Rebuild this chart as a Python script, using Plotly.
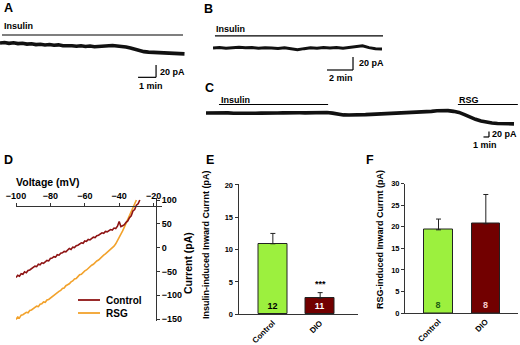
import plotly.graph_objects as go

W, H = 520, 345
FONT = "Liberation Sans, Arial, sans-serif"


def px(x):
    return x / W


def py(y):
    return 1 - y / H


# ---------------- data ----------------
# Panel A: insulin trace (time in min, current in pA, relative to start)
a_time = [0, 0.25, 0.5, 0.75, 1, 1.25, 1.5, 1.75, 2, 2.25, 2.5, 2.75, 3, 3.25, 3.5,
          3.75, 4, 4.25, 4.5, 4.75, 5, 5.25, 5.5, 5.75, 6, 6.25, 6.5, 6.75, 7, 7.25,
          7.5, 7.75, 8, 8.25, 8.5, 8.75, 9, 9.25, 9.5, 9.75, 10, 10.25]
a_current = [0, 0.8, -0.5, 0.3, -1.0, -0.4, -1.8, -1.2, -2.6, -2.0, -3.2, -2.5, -3.6,
             -3.0, -4.4, -3.8, -4.5, -5.2, -4.6, -5.6, -5.0, -6.0, -5.4, -5.0, -4.4,
             -4.0, -4.8, -5.2, -6.5, -8.0, -10.0, -12.4, -14.0, -14.8, -15.2, -15.6,
             -15.0, -16.2, -16.8, -16.0, -17.2, -17.6]

# Panel B: insulin trace (DIO)
b_time = [0, 0.5, 1, 1.5, 2, 2.5, 3, 3.5, 4, 4.5, 5, 5.5, 6, 6.5, 7, 7.5, 8, 8.5, 9,
          9.5, 10, 10.5, 11, 11.5, 12, 12.5, 13]
b_current = [0, 0.8, -0.5, 0.6, 1.2, 0.3, 0.9, -0.4, 0.5, 0, -0.8, 0.2, -1.5, -2.8,
             -1.0, 0.3, -0.5, 0.6, 0.1, 0.9, -0.3, 0.7, 1.5, 3.5, 0.5, -1.2, -1.6]

# Panel C: insulin then RSG trace
c_time = [0, 1, 2, 3, 4, 5, 6, 7, 8, 9, 10, 11, 12, 13, 14, 15, 16, 17, 18, 19, 20,
          21, 22, 23, 24, 25, 26, 27, 28, 29, 30, 31, 32, 33, 34, 35, 36, 37, 38, 39,
          40, 41, 42, 43, 44, 45, 46, 47, 48, 49, 50, 51, 52, 53, 54, 55, 56]
c_current = [0, 0.6, -1, 0.2, 0.5, -0.8, -1.5, -0.6, -1.8, -0.9, -0.5, -1.2, -1, 0.2,
             0.5, -0.4, 0, 0.8, 0.5, 1.4, 1, 2, 1.8, -0.5, -5, -7, -7.5, -7.8, -7, -6,
             -5, -4.2, -3, -2, -1, 0, 0.8, 2, 2.6, 3.6, 4.8, 6, 8, 9.5, 8.5, 6, 2, -6,
             -16, -23, -29, -34, -36.5, -38, -39, -40, -39.5]

# Panel D: I-V relationships
d_ctrl_v = [-100, -99, -98, -97, -96, -95, -94, -93, -92, -91, -90, -89, -88, -87, -86,
            -85, -84, -83, -82, -81, -80, -79, -78, -77, -76, -75, -74, -73, -72, -71,
            -70, -69, -68, -67, -66, -65, -64, -63, -62, -61, -60, -59, -58, -57, -56,
            -55, -54, -53, -52, -51, -50, -49, -48, -47, -46, -45, -44, -43, -42, -41,
            -40, -39, -38, -37, -36, -35, -34, -33, -32, -31, -30, -29, -28]
d_ctrl_i = [-63, -58, -60, -55, -56, -51, -53, -48, -47, -44, -42, -39, -40, -35, -36,
            -32, -33, -29, -27, -28, -23, -22, -19, -20, -15, -16, -12, -11, -8, -9,
            -5, -2, -4, 1, 0, 4, 5, 7, 10, 9, 14, 13, 17, 16, 20, 22, 21, 25, 26, 28,
            31, 30, 34, 33, 36, 38, 37, 41, 40, 45, 55, 44, 46, 48, 53, 56, 63, 67,
            77, 80, 89, 92, 100]
d_rsg_v = [-100, -99, -98, -97, -96, -95, -94, -93, -92, -91, -90, -89, -88, -87, -86,
           -85, -84, -83, -82, -81, -80, -79, -78, -77, -76, -75, -74, -73, -72, -71,
           -70, -69, -68, -67, -66, -65, -64, -63, -62, -61, -60, -59, -58, -57, -56,
           -55, -54, -53, -52, -51, -50, -49, -48, -47, -46, -45, -44, -43, -42, -41,
           -40, -39, -38, -37, -36, -35, -34, -33, -32, -31, -30]
d_rsg_i = [-151, -146, -148, -142, -141, -139, -136, -137, -132, -131, -128, -127,
           -123, -124, -119, -118, -114, -115, -110, -109, -106, -103, -101, -96, -95,
           -92, -90, -86, -85, -80, -78, -76, -72, -70, -66, -65, -61, -57, -56, -52,
           -49, -47, -43, -41, -37, -35, -31, -28, -26, -22, -19, -16, -13, -10, -7,
           -3, 0, 3, 8, 14, 21, 28, 35, 43, 51, 59, 67, 76, 84, 93, 100]
d_xticks = [-100, -80, -60, -40, -20]
d_yticks = [100, 50, 0, -50, -100, -150]

# Panels E and F: bar charts
groups = ["Control", "DIO"]
e_mean = [10.9, 2.5]
e_sem = [1.6, 0.85]
e_n = ["12", "11"]
f_mean = [19.3, 20.7]
f_sem = [2.5, 6.8]
f_n = ["8", "8"]
e_yticks = [0, 5, 10, 15, 20]
f_yticks = [0, 5, 10, 15, 20, 25, 30]

GREEN = "#9CF03E"
MAROON = "#720000"
CTRL_LINE = "#8E1414"
RSG_LINE = "#F2A22C"
AX = "#333333"

fig = go.Figure()

# ---- traces A, B, C ----
fig.add_trace(go.Scatter(x=a_time, y=a_current, xaxis="x", yaxis="y", mode="lines",
                         line=dict(color="#111111", width=3.6), hoverinfo="skip"))
fig.add_trace(go.Scatter(x=b_time, y=b_current, xaxis="x2", yaxis="y2", mode="lines",
                         line=dict(color="#111111", width=3.0), hoverinfo="skip"))
fig.add_trace(go.Scatter(x=c_time, y=c_current, xaxis="x3", yaxis="y3", mode="lines",
                         line=dict(color="#111111", width=3.6), hoverinfo="skip"))

# ---- D ----
fig.add_trace(go.Scatter(x=d_rsg_v, y=d_rsg_i, xaxis="x4", yaxis="y4", mode="lines",
                         line=dict(color=RSG_LINE, width=1.6), name="RSG"))
fig.add_trace(go.Scatter(x=d_ctrl_v, y=d_ctrl_i, xaxis="x4", yaxis="y4", mode="lines",
                         line=dict(color=CTRL_LINE, width=1.6), name="Control"))

# ---- E ----
fig.add_trace(go.Bar(
    x=[0, 1], y=e_mean, width=0.61, xaxis="x5", yaxis="y5",
    marker=dict(color=[GREEN, MAROON], line=dict(color="#222222", width=1)),
    error_y=dict(type="data", array=e_sem, arrayminus=[0, 0], symmetric=False,
                 color="#222222", thickness=1, width=2.5),
    text=e_n, textposition="inside", insidetextanchor="start", textangle=0,
    textfont=dict(family=FONT, size=9, color=["black", "white"], weight="bold")))

# ---- F ----
fig.add_trace(go.Bar(
    x=[0, 1], y=f_mean, width=0.6, xaxis="x6", yaxis="y6",
    marker=dict(color=[GREEN, MAROON], line=dict(color="#222222", width=1)),
    error_y=dict(type="data", array=f_sem, arrayminus=[0, 0], symmetric=False,
                 color="#222222", thickness=1, width=2.5),
    text=f_n, textposition="inside", insidetextanchor="start", textangle=0,
    textfont=dict(family=FONT, size=9, color=["#1F5E12", "#F6C8C8"], weight="bold")))

hidden = dict(visible=False, showgrid=False, zeroline=False, fixedrange=True)
tickfont_small = dict(family=FONT, size=7.5, color="black", weight="bold")
tickfont_d = dict(family=FONT, size=9, color="black", weight="bold")

fig.update_layout(
    width=W, height=H,
    margin=dict(l=0, r=0, t=0, b=0, pad=0, autoexpand=False),
    paper_bgcolor="white", plot_bgcolor="rgba(0,0,0,0)", showlegend=False,
    font=dict(family=FONT, size=9, color="black", weight="bold"),
    bargap=0,
    xaxis=dict(domain=[px(0), px(185)], range=[0, 185 / 18], anchor="y", **hidden),
    yaxis=dict(domain=[py(90), py(20)], range=[-76.4, 37.4], anchor="x", **hidden),
    xaxis2=dict(domain=[px(213), px(385)], range=[0, 172 / 13], anchor="y2", **hidden),
    yaxis2=dict(domain=[py(85), py(20)], range=[-57, 43.1], anchor="x2", **hidden),
    xaxis3=dict(domain=[px(206), px(520)], range=[0, 314 / 5.5], anchor="y3", **hidden),
    yaxis3=dict(domain=[py(150), py(92)], range=[-134.7, 76.4], anchor="x3", **hidden),
    xaxis4=dict(domain=[px(16), px(162)], range=[-100, -15.1], anchor="free",
                position=py(205.7), side="top", showline=True, linecolor=AX,
                linewidth=1, ticks="outside", ticklen=3, tickcolor=AX,
                tickvals=d_xticks, tickfont=tickfont_d, showgrid=False,
                zeroline=False, automargin=False),
    yaxis4=dict(domain=[py(321), py(198)], range=[-154.2, 104.2], anchor="free",
                position=px(156), side="right", showline=True, linecolor=AX,
                linewidth=1, ticks="outside", ticklen=3, tickcolor=AX,
                tickvals=d_yticks, tickfont=tickfont_d, showgrid=False,
                zeroline=False, automargin=False),
    xaxis5=dict(domain=[px(238.5), px(358)], range=[-0.726, 1.8], anchor="y5",
                showline=True, linecolor=AX, linewidth=1, ticks="",
                tickvals=[0, 1], ticktext=groups, tickangle=-45,
                tickfont=dict(family=FONT, size=8, color="black", weight="bold"),
                showgrid=False, zeroline=False, automargin=False),
    yaxis5=dict(domain=[py(314.3), py(184)], range=[0, 20.14], anchor="x5",
                showline=True, linecolor=AX, linewidth=1, ticks="outside",
                ticklen=3, tickcolor=AX, tickvals=e_yticks, tickfont=tickfont_small,
                showgrid=False, zeroline=False, automargin=False),
    xaxis6=dict(domain=[px(405), px(518)], range=[-0.708, 1.68], anchor="y6",
                showline=True, linecolor=AX, linewidth=1, ticks="",
                tickvals=[0, 1], ticktext=groups, tickangle=-45,
                tickfont=dict(family=FONT, size=8, color="black", weight="bold"),
                showgrid=False, zeroline=False, automargin=False),
    yaxis6=dict(domain=[py(313), py(183.5)], range=[0, 30.05], anchor="x6",
                showline=True, linecolor=AX, linewidth=1, ticks="outside",
                ticklen=3, tickcolor=AX, tickvals=f_yticks, tickfont=tickfont_small,
                showgrid=False, zeroline=False, automargin=False),
)


def hline(xref, yref, x0, x1, y, width=1.2, color="black"):
    return dict(type="line", xref=xref, yref=yref, x0=x0, x1=x1, y0=y, y1=y,
                line=dict(color=color, width=width))


def vline(xref, yref, x, y0, y1, width=1.2, color="black"):
    return dict(type="line", xref=xref, yref=yref, x0=x, x1=x, y0=y0, y1=y1,
                line=dict(color=color, width=width))


shapes = [
    # A: insulin bar and 20 pA / 1 min scale
    hline("x", "y", 0.11, 10.17, 13),
    vline("x", "y", 8.67, -35.8, -55.8),
    hline("x", "y", 7.67, 8.67, -55.8),
    # B: insulin bar and 20 pA / 2 min scale
    hline("x2", "y2", 0.15, 13.08, 18.5),
    vline("x2", "y2", 10.77, -13.9, -33.9),
    hline("x2", "y2", 8.77, 10.77, -33.9),
    # C: insulin bar, RSG bar and 20 pA / 1 min scale
    hline("x3", "y3", 2.36, 22.2, 30.9),
    hline("x3", "y3", 45.8, 56.7, 30.9),
    vline("x3", "y3", 51.45, -67.3, -87.3),
    hline("x3", "y3", 50.45, 51.45, -87.3),
    # D legend samples
    dict(type="line", xref="paper", yref="paper", x0=px(78), x1=px(100),
         y0=py(300), y1=py(300), line=dict(color=CTRL_LINE, width=1.8)),
    dict(type="line", xref="paper", yref="paper", x0=px(78), x1=px(100),
         y0=py(313), y1=py(313), line=dict(color=RSG_LINE, width=1.8)),
]


def label(text, x, y, size=9, xanchor="left", yanchor="middle", angle=0,
          color="black"):
    return dict(text=text, x=px(x), y=py(y), xref="paper", yref="paper",
                showarrow=False, xanchor=xanchor, yanchor=yanchor, textangle=angle,
                font=dict(family=FONT, size=size, color=color, weight="bold"))


annotations = [
    label("A", 2, 8, size=12.5),
    label("B", 202, 9, size=12.5),
    label("C", 203, 88, size=12.5),
    label("D", 2, 160, size=12.5),
    label("E", 204, 160, size=12.5),
    label("F", 364, 160, size=12.5),
    # A
    label("Insulin", 2, 26),
    label("20 pA", 158, 72),
    label("1 min", 137, 86),
    # B
    label("Insulin", 214, 29),
    label("20 pA", 357, 63),
    label("2 min", 327, 78),
    # C
    label("Insulin", 219, 99.5),
    label("RSG", 457, 99.5),
    label("20 pA", 489.5, 134),
    label("1 min", 471, 145),
    # D
    label("Voltage (mV)", 14, 182, size=10.5),
    label("Current (pA)", 188, 263, size=10.5, xanchor="center", angle=-90),
    label("Control", 104, 300, size=10),
    label("RSG", 104, 313, size=10),
    # E
    dict(text="***", x=1, y=e_mean[1] + e_sem[1] + 1.3, xref="x5", yref="y5",
         showarrow=False, xanchor="center", yanchor="middle",
         font=dict(family=FONT, size=9, color="black", weight="bold")),
    label("Insulin-induced Inward Currnt (pA)", 206, 245, size=9,
          xanchor="center", angle=-90),
    # F
    label("RSG-induced Inward Currnt (pA)", 380, 240, size=9,
          xanchor="center", angle=-90),
]

fig.update_layout(shapes=shapes, annotations=annotations)

fig.write_html(
    "out.html",
    config={"displayModeBar": False},
    post_script="document.body.style.margin='0';document.body.style.overflow='hidden';",
)
